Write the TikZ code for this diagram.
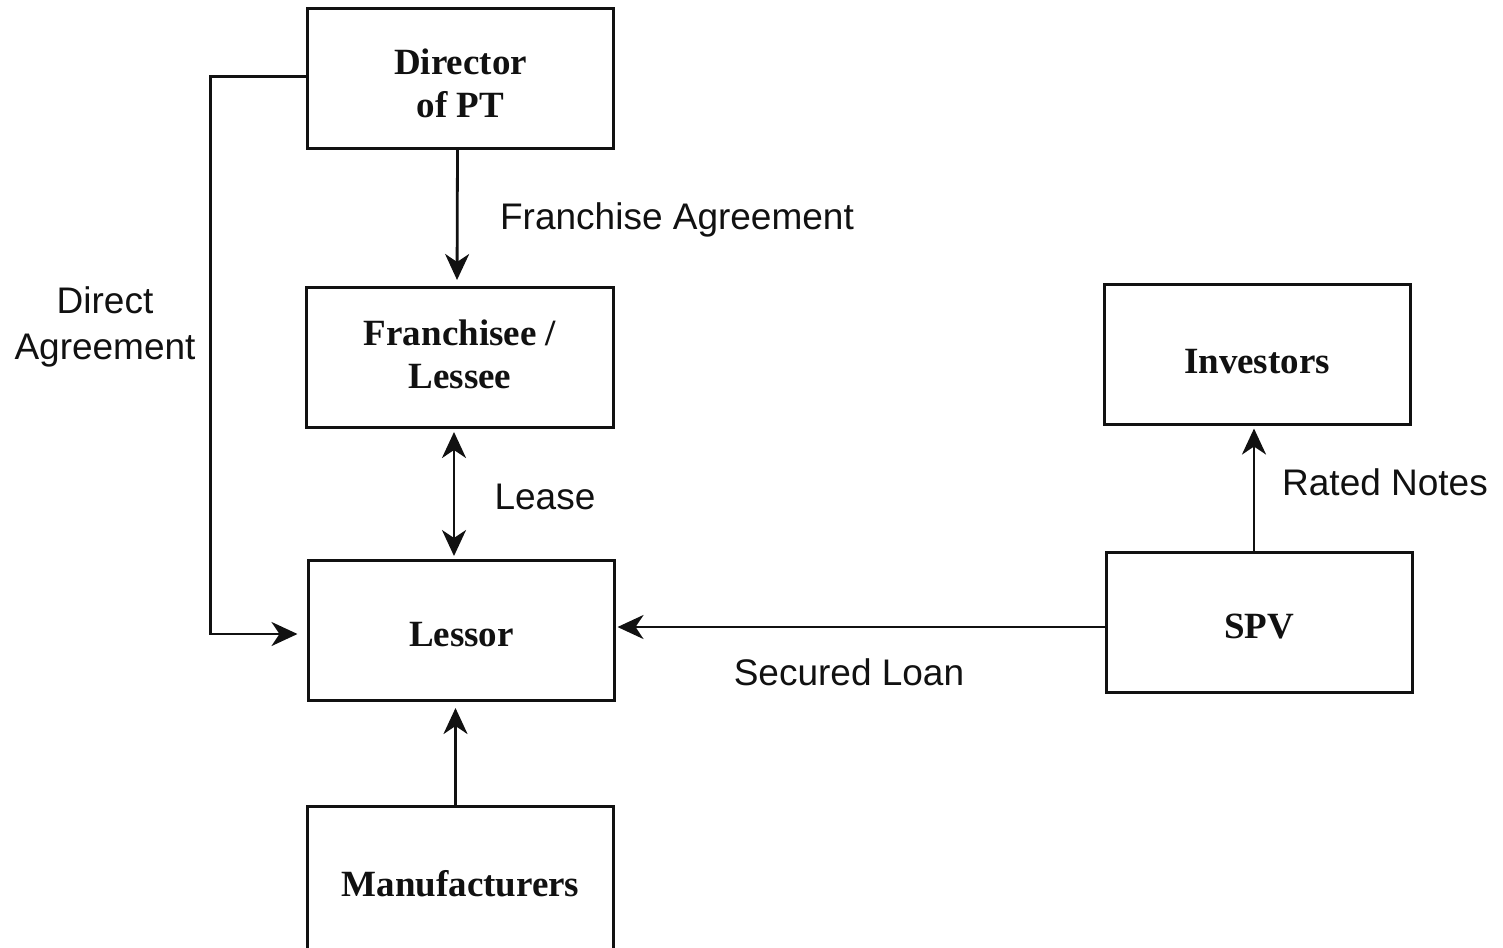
\documentclass[tikz,border=0pt]{standalone}
\usepackage{fontspec}
\setmainfont{Liberation Serif}
\newfontfamily\labelfont{Liberation Sans}
\usetikzlibrary{arrows.meta}
\definecolor{ink}{HTML}{111111}
\tikzset{
  party/.style={draw=ink,line width=1.5bp,fill=white,minimum width=153bp,minimum height=70bp,
    align=center,text depth=0pt,font=\fontsize{18.5bp}{21.5bp}\selectfont\bfseries,text=ink},
  label/.style={align=center,font=\labelfont\fontsize{18.5bp}{23bp}\selectfont,text=ink},
  wire/.style={draw=ink,line width=1.4bp},
  arrow/.style={wire,-{Stealth[length=13bp,width=12bp,inset=4bp]}},
  twoway/.style={wire,{Stealth[length=13bp,width=12bp,inset=4bp]}-{Stealth[length=13bp,width=12bp,inset=4bp]}}
}

\begin{document}
\begin{tikzpicture}[x=0.5bp,y=-0.5bp,every node/.style={inner sep=0pt,outer sep=0pt}]
\path[use as bounding box] (0,0) rectangle (1503,947);
\clip (0,0) rectangle (1503,947);

% parties
\node[party,text height=38.7bp] (director) at (460.5,78.5) {Director\\of PT};
\node[party,text depth=3bp] (franchisee) at (460,357) {Franchisee /\\Lessee};
\node[party,text height=16.2bp] (lessor) at (461.5,630) {Lessor};
\node[party,minimum height=80bp] (manufacturers) at (460.5,886) {};
\node[font=\fontsize{18.5bp}{21.5bp}\selectfont\bfseries,text=ink,text depth=0pt] (manufacturers-text) at (460.5,883) {Manufacturers};
\node[party,text height=19.2bp] (investors) at (1257,354.5) {Investors};
\node[party,text height=16.2bp] (spv) at (1259,622) {SPV};

% agreements
\draw[arrow,shorten >=3.5bp] ([xshift=-1.5bp]director.south) -- ([xshift=-1.5bp]franchisee.north);
\node[label] (franchise-label) at (677,220) {Franchise Agreement};
\draw[twoway,shorten <=2.5bp,shorten >=2bp] ([xshift=-3bp]franchisee.south) -- ([xshift=-3bp]franchisee.south |- lessor.north);
\node[label] (lease-label) at (545,497) {Lease};
\draw[arrow,shorten >=4bp] ([xshift=-2.5bp]manufacturers.north) -- ([xshift=-2.5bp]manufacturers.north |- lessor.south);
\draw[arrow,shorten >=1.5bp] ([yshift=-2.5bp]spv.west) -- ([yshift=-2.5bp]lessor.east |- spv.west);
\node[label] (loan-label) at (849,672) {Secured Loan};
\draw[arrow,shorten >=2bp] ([xshift=-2.5bp]spv.north) -- ([xshift=-2.5bp]spv.north |- investors.south);
\node[label] (notes-label) at (1385,482) {Rated Notes};
\draw[arrow,shorten >=5.5bp] ([yshift=1bp]director.west) -- ++(-97,0) |- ([yshift=-2bp]lessor.west);
\node[label] (direct-label) at (105,327) {Direct\\Agreement};
\end{tikzpicture}
\end{document}
